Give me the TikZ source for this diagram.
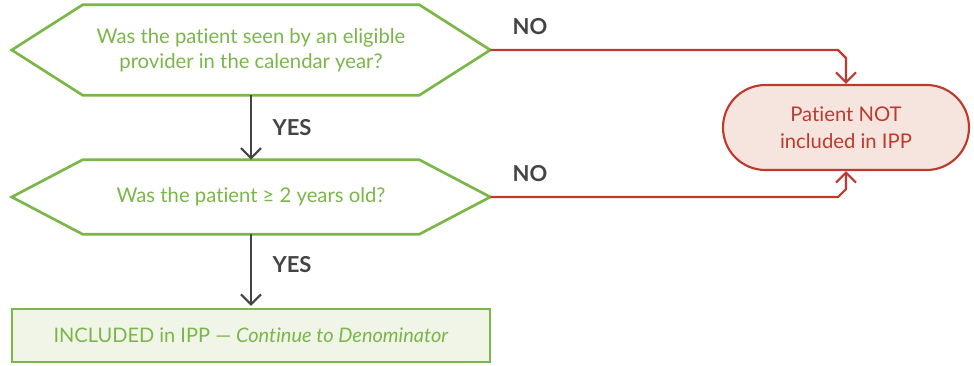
\documentclass[tikz,border=0pt]{standalone}
\usepackage{fontspec}
\setmainfont{Lato}[Ligatures={NoCommon}]
\usetikzlibrary{arrows.meta,calc}
\definecolor{qgreen}{RGB}{122,182,72}
\definecolor{nored}{RGB}{190,58,45}
\definecolor{nofill}{RGB}{246,228,222}
\definecolor{okfill}{RGB}{240,245,232}
\definecolor{labgray}{RGB}{68,68,68}
\tikzset{
  question/.style={minimum width=252pt,minimum height=#1,inner sep=0pt,
    align=center,text=qgreen,font=\fontsize{15.2}{19}\selectfont},
  hexline/.style={draw=qgreen,line width=2pt,line join=miter},
  endbox/.style={draw=nored,fill=nofill,line width=1.6pt,rounded corners=31.8pt,
    minimum width=184.5pt,minimum height=63.75pt,align=center,text=nored,
    font=\fontsize{15.2}{20}\selectfont},
  okbox/.style={draw=qgreen,fill=okfill,line width=1.6pt,minimum width=358.5pt,
    minimum height=39.75pt,text=qgreen,font=\fontsize{15}{18}\selectfont},
  yesline/.style={draw=labgray,line width=1.6pt,-{Straight Barb[length=7.5pt,width=15pt]}},
  noline/.style={draw=nored,line width=1.6pt,-{Straight Barb[length=7.5pt,width=15pt]}},
  lab/.style={text=labgray,font=\fontsize{16.5}{19}\selectfont\bfseries}
}
\begin{document}
\begin{tikzpicture}[x=0.75pt,y=-0.75pt]
    \useasboundingbox (0,0) rectangle (974,365);
    % questions
    \node[question=67.5pt] (q1) at (251,50) {Was the patient seen by an eligible\\provider in the calendar year?};
    \coordinate (q1l) at ([xshift=-53.25pt]q1.west);
    \coordinate (q1r) at ([xshift=53.25pt]q1.east);
    \draw[hexline] (q1.north west) -- (q1.north east) -- (q1r) -- (q1.south east) -- (q1.south west) -- (q1l) -- cycle;
    \node[question=55.5pt] (q2) at (251,197) {Was the patient ≥ 2 years old?};
    \coordinate (q2l) at ([xshift=-53.25pt]q2.west);
    \coordinate (q2r) at ([xshift=53.25pt]q2.east);
    \draw[hexline] (q2.north west) -- (q2.north east) -- (q2r) -- (q2.south east) -- (q2.south west) -- (q2l) -- cycle;
    % outcomes
    \node[endbox] (pnot) at (846,127.5) {Patient NOT\\included in IPP};
    \node[okbox] (inc) at (251,335.5) {INCLUDED in IPP --- \textit{Continue to Denominator}};
    % yes
    \draw[yesline] (q1.south) -- (q2.north) node[lab,midway,anchor=west,xshift=12pt] (yes1) {YES};
    \draw[yesline] (q2.south) -- ([yshift=1.5pt]inc.north) node[lab,pos=0.42,anchor=west,xshift=12pt] (yes2) {YES};
    % no
    \draw[noline] (q1r) -- ($(pnot.north |- q1r)+(-8,0)$) -- ($(pnot.north |- q1r)+(0,8)$) -- (pnot.north);
    \draw[noline] (q2r) -- ($(pnot.south |- q2r)+(-8,0)$) -- ($(pnot.south |- q2r)+(0,-8)$) -- (pnot.south);
    \node[lab] (no1) at (530,27) {NO};
    \node[lab] (no2) at (530,174) {NO};
\end{tikzpicture}
\end{document}
